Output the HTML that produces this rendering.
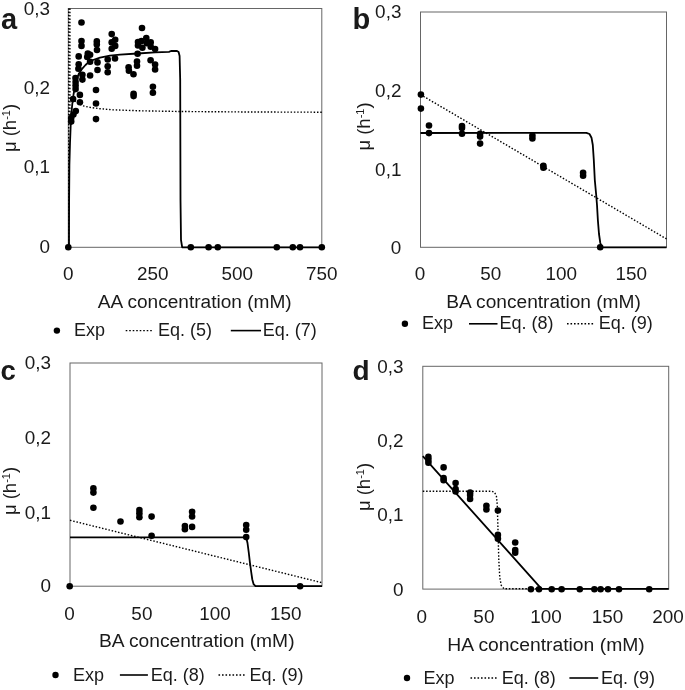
<!DOCTYPE html>
<html><head><meta charset="utf-8"><title>Growth rate vs acid concentration</title>
<style>
html,body{margin:0;padding:0;background:#fff;}
body{width:685px;height:690px;overflow:hidden;}
svg{display:block;font-family:"Liberation Sans", sans-serif;}
text{fill:#1a1a1a;}
svg{will-change:transform;}
circle{fill:#000;}
.fr{fill:none;stroke:#666666;stroke-width:1;}
.sol{fill:none;stroke:#000;stroke-width:1.8;stroke-linejoin:round;}
.dot{fill:none;stroke:#000;stroke-width:1.4;stroke-dasharray:1.5 1.8;}
.soll{stroke:#000;stroke-width:1.6;}
.dotl{stroke:#000;stroke-width:1.4;stroke-dasharray:1.6 1.9;}
</style></head>
<body>
<svg width="685" height="690" viewBox="0 0 685 690">
<rect class="fr" x="68.3" y="8.5" width="253.5" height="238.8"/>
<rect class="fr" x="420.5" y="12.0" width="246.0" height="235.3"/>
<rect class="fr" x="70.0" y="363.0" width="252.0" height="223.2"/>
<rect class="fr" x="422.8" y="366.3" width="245.9" height="222.8"/>
<polyline class="dot" points="68.7,247.3 68.7,8.5"/>
<polyline class="dot" points="69.9,8.5 69.9,117.0"/>
<polyline class="dot" points="71.5,99.5 74.0,100.5 78.0,103.3 82.8,105.8 90.0,107.4 100.0,108.7 112.6,109.8 140.0,110.8 180.0,111.5 250.0,112.0 321.8,112.2"/>
<polyline class="sol" points="69.0,247.3 69.1,200.0 69.4,165.0 70.0,143.0 70.7,125.0 71.4,113.0 72.3,104.0 73.6,94.0 75.5,85.0 77.3,77.6 79.0,73.4 82.5,68.3 85.5,65.0 88.4,62.4 93.0,60.0 100.0,57.6 110.0,55.6 120.0,54.7 137.6,53.5 155.0,52.4 169.0,51.8 171.0,51.0 177.0,51.0 178.6,52.0 179.6,56.0 180.2,80.0 180.5,200.0 181.0,240.0 182.2,247.3 321.8,247.3"/>
<circle cx="68.3" cy="247.3" r="3.3"/>
<circle cx="190.8" cy="247.3" r="3.3"/>
<circle cx="208.6" cy="247.3" r="3.3"/>
<circle cx="217.8" cy="247.3" r="3.3"/>
<circle cx="276.8" cy="247.3" r="3.3"/>
<circle cx="292.8" cy="247.3" r="3.3"/>
<circle cx="300.0" cy="247.3" r="3.3"/>
<circle cx="321.8" cy="247.3" r="3.3"/>
<circle cx="81.5" cy="22.5" r="3.3"/>
<circle cx="81.5" cy="41.1" r="3.3"/>
<circle cx="81.5" cy="45.9" r="3.3"/>
<circle cx="78.7" cy="56.4" r="3.3"/>
<circle cx="78.7" cy="64.3" r="3.3"/>
<circle cx="78.4" cy="68.7" r="3.3"/>
<circle cx="87.8" cy="53.5" r="3.3"/>
<circle cx="90.1" cy="54.7" r="3.3"/>
<circle cx="87.2" cy="57.0" r="3.3"/>
<circle cx="90.1" cy="61.7" r="3.3"/>
<circle cx="96.8" cy="41.4" r="3.3"/>
<circle cx="96.8" cy="44.6" r="3.3"/>
<circle cx="97.0" cy="50.0" r="3.3"/>
<circle cx="97.5" cy="62.4" r="3.3"/>
<circle cx="97.5" cy="70.0" r="3.3"/>
<circle cx="107.7" cy="59.5" r="3.3"/>
<circle cx="107.7" cy="66.3" r="3.3"/>
<circle cx="107.7" cy="72.2" r="3.3"/>
<circle cx="111.7" cy="34.1" r="3.3"/>
<circle cx="115.2" cy="39.8" r="3.3"/>
<circle cx="111.7" cy="42.4" r="3.3"/>
<circle cx="115.2" cy="45.9" r="3.3"/>
<circle cx="111.7" cy="48.8" r="3.3"/>
<circle cx="115.0" cy="58.5" r="3.3"/>
<circle cx="128.6" cy="67.3" r="3.3"/>
<circle cx="128.9" cy="70.7" r="3.3"/>
<circle cx="133.5" cy="74.2" r="3.3"/>
<circle cx="142.0" cy="28.0" r="3.3"/>
<circle cx="146.3" cy="38.0" r="3.3"/>
<circle cx="138.0" cy="42.0" r="3.3"/>
<circle cx="141.5" cy="41.1" r="3.3"/>
<circle cx="138.0" cy="45.5" r="3.3"/>
<circle cx="142.4" cy="47.7" r="3.3"/>
<circle cx="146.8" cy="43.3" r="3.3"/>
<circle cx="150.7" cy="42.4" r="3.3"/>
<circle cx="150.7" cy="46.8" r="3.3"/>
<circle cx="155.1" cy="49.0" r="3.3"/>
<circle cx="137.6" cy="53.8" r="3.3"/>
<circle cx="137.0" cy="61.5" r="3.3"/>
<circle cx="137.0" cy="65.8" r="3.3"/>
<circle cx="150.6" cy="60.3" r="3.3"/>
<circle cx="155.1" cy="64.6" r="3.3"/>
<circle cx="155.1" cy="69.5" r="3.3"/>
<circle cx="152.9" cy="86.8" r="3.3"/>
<circle cx="152.9" cy="92.7" r="3.3"/>
<circle cx="133.6" cy="93.7" r="3.3"/>
<circle cx="133.6" cy="96.1" r="3.3"/>
<circle cx="96.0" cy="90.0" r="3.3"/>
<circle cx="96.0" cy="103.5" r="3.3"/>
<circle cx="96.0" cy="119.1" r="3.3"/>
<circle cx="82.4" cy="74.8" r="3.3"/>
<circle cx="82.4" cy="79.6" r="3.3"/>
<circle cx="90.1" cy="75.5" r="3.3"/>
<circle cx="75.5" cy="78.1" r="3.3"/>
<circle cx="75.6" cy="82.1" r="3.3"/>
<circle cx="75.6" cy="85.6" r="3.3"/>
<circle cx="75.6" cy="89.1" r="3.3"/>
<circle cx="79.9" cy="94.9" r="3.3"/>
<circle cx="79.9" cy="102.3" r="3.3"/>
<circle cx="73.1" cy="99.1" r="3.3"/>
<circle cx="75.8" cy="111.1" r="3.3"/>
<circle cx="73.4" cy="114.6" r="3.3"/>
<circle cx="71.2" cy="118.1" r="3.3"/>
<circle cx="71.2" cy="121.6" r="3.3"/>
<polyline class="dot" points="420.5,94.6 666.5,238.9"/>
<polyline class="sol" points="420.5,133.0 586.4,132.8 589.5,134.0 591.5,137.7 592.8,145.0 593.8,160.0 594.8,180.0 596.2,195.0 597.0,205.0 597.9,220.5 599.0,234.0 600.3,243.0 602.0,247.3 666.5,247.3"/>
<circle cx="420.9" cy="94.6" r="3.3"/>
<circle cx="420.9" cy="108.6" r="3.3"/>
<circle cx="429.0" cy="125.5" r="3.3"/>
<circle cx="429.0" cy="133.1" r="3.3"/>
<circle cx="462.0" cy="126.1" r="3.3"/>
<circle cx="462.0" cy="128.0" r="3.3"/>
<circle cx="462.0" cy="133.7" r="3.3"/>
<circle cx="480.1" cy="133.7" r="3.3"/>
<circle cx="480.1" cy="136.6" r="3.3"/>
<circle cx="480.1" cy="143.6" r="3.3"/>
<circle cx="532.4" cy="135.5" r="3.3"/>
<circle cx="532.4" cy="138.5" r="3.3"/>
<circle cx="543.4" cy="165.7" r="3.3"/>
<circle cx="543.4" cy="167.7" r="3.3"/>
<circle cx="583.1" cy="172.8" r="3.3"/>
<circle cx="583.1" cy="175.7" r="3.3"/>
<circle cx="600.2" cy="247.3" r="3.3"/>
<polyline class="dot" points="70.0,520.3 322.0,582.7"/>
<polyline class="sol" points="70.0,537.4 245.1,537.4 246.6,539.0 247.5,543.0 248.7,552.0 249.9,562.3 251.2,572.0 252.3,579.5 253.6,584.2 255.5,586.2 322.0,586.2"/>
<circle cx="69.7" cy="586.2" r="3.3"/>
<circle cx="93.4" cy="488.4" r="3.3"/>
<circle cx="93.4" cy="492.6" r="3.3"/>
<circle cx="93.4" cy="507.7" r="3.3"/>
<circle cx="120.5" cy="521.5" r="3.3"/>
<circle cx="139.4" cy="510.1" r="3.3"/>
<circle cx="139.4" cy="513.4" r="3.3"/>
<circle cx="139.4" cy="517.3" r="3.3"/>
<circle cx="151.6" cy="516.6" r="3.3"/>
<circle cx="151.6" cy="535.7" r="3.3"/>
<circle cx="192.1" cy="511.7" r="3.3"/>
<circle cx="192.1" cy="516.5" r="3.3"/>
<circle cx="184.9" cy="526.1" r="3.3"/>
<circle cx="184.9" cy="529.3" r="3.3"/>
<circle cx="192.1" cy="526.9" r="3.3"/>
<circle cx="246.2" cy="525.0" r="3.3"/>
<circle cx="246.2" cy="529.8" r="3.3"/>
<circle cx="246.2" cy="537.1" r="3.3"/>
<circle cx="300.1" cy="586.2" r="3.3"/>
<polyline class="dot" points="422.8,491.2 491.6,491.2 494.5,492.3 496.4,496.0 497.3,505.0 498.0,530.0 498.8,560.0 499.8,578.0 501.3,585.5 504.0,588.8 541.5,588.8"/>
<polyline class="sol" points="422.8,456.2 541.5,588.8 668.7,588.8"/>
<circle cx="428.4" cy="456.9" r="3.3"/>
<circle cx="428.4" cy="459.9" r="3.3"/>
<circle cx="428.4" cy="462.8" r="3.3"/>
<circle cx="443.6" cy="467.4" r="3.3"/>
<circle cx="443.6" cy="478.0" r="3.3"/>
<circle cx="443.6" cy="480.3" r="3.3"/>
<circle cx="455.6" cy="483.0" r="3.3"/>
<circle cx="455.6" cy="489.0" r="3.3"/>
<circle cx="455.6" cy="491.4" r="3.3"/>
<circle cx="470.1" cy="492.6" r="3.3"/>
<circle cx="470.1" cy="494.9" r="3.3"/>
<circle cx="470.1" cy="499.0" r="3.3"/>
<circle cx="486.4" cy="505.8" r="3.3"/>
<circle cx="486.4" cy="509.5" r="3.3"/>
<circle cx="497.9" cy="510.5" r="3.3"/>
<circle cx="497.9" cy="534.9" r="3.3"/>
<circle cx="497.9" cy="538.7" r="3.3"/>
<circle cx="515.2" cy="542.5" r="3.3"/>
<circle cx="515.2" cy="550.0" r="3.3"/>
<circle cx="515.2" cy="552.8" r="3.3"/>
<circle cx="530.9" cy="589.3" r="3.3"/>
<circle cx="539.0" cy="589.3" r="3.3"/>
<circle cx="551.7" cy="589.3" r="3.3"/>
<circle cx="561.6" cy="589.3" r="3.3"/>
<circle cx="579.8" cy="589.3" r="3.3"/>
<circle cx="594.4" cy="589.3" r="3.3"/>
<circle cx="600.6" cy="589.3" r="3.3"/>
<circle cx="608.0" cy="589.3" r="3.3"/>
<circle cx="619.0" cy="589.3" r="3.3"/>
<circle cx="649.2" cy="589.3" r="3.3"/>
<text x="50.0" y="14.6" font-size="18" text-anchor="end" font-weight="normal" textLength="26.27" lengthAdjust="spacingAndGlyphs">0,3</text>
<text x="50.0" y="93.9" font-size="18" text-anchor="end" font-weight="normal" textLength="26.27" lengthAdjust="spacingAndGlyphs">0,2</text>
<text x="50.0" y="172.7" font-size="18" text-anchor="end" font-weight="normal" textLength="26.27" lengthAdjust="spacingAndGlyphs">0,1</text>
<text x="50.0" y="253.3" font-size="18" text-anchor="end" font-weight="normal" textLength="10.51" lengthAdjust="spacingAndGlyphs">0</text>
<text x="401.4" y="17.8" font-size="18" text-anchor="end" font-weight="normal" textLength="26.27" lengthAdjust="spacingAndGlyphs">0,3</text>
<text x="401.4" y="96.5" font-size="18" text-anchor="end" font-weight="normal" textLength="26.27" lengthAdjust="spacingAndGlyphs">0,2</text>
<text x="401.4" y="175.5" font-size="18" text-anchor="end" font-weight="normal" textLength="26.27" lengthAdjust="spacingAndGlyphs">0,1</text>
<text x="401.4" y="253.7" font-size="18" text-anchor="end" font-weight="normal" textLength="10.51" lengthAdjust="spacingAndGlyphs">0</text>
<text x="51.0" y="369.3" font-size="18" text-anchor="end" font-weight="normal" textLength="26.27" lengthAdjust="spacingAndGlyphs">0,3</text>
<text x="51.0" y="444.3" font-size="18" text-anchor="end" font-weight="normal" textLength="26.27" lengthAdjust="spacingAndGlyphs">0,2</text>
<text x="51.0" y="518.5" font-size="18" text-anchor="end" font-weight="normal" textLength="26.27" lengthAdjust="spacingAndGlyphs">0,1</text>
<text x="51.0" y="591.9" font-size="18" text-anchor="end" font-weight="normal" textLength="10.51" lengthAdjust="spacingAndGlyphs">0</text>
<text x="403.6" y="372.5" font-size="18" text-anchor="end" font-weight="normal" textLength="26.27" lengthAdjust="spacingAndGlyphs">0,3</text>
<text x="403.6" y="447.0" font-size="18" text-anchor="end" font-weight="normal" textLength="26.27" lengthAdjust="spacingAndGlyphs">0,2</text>
<text x="403.6" y="521.2" font-size="18" text-anchor="end" font-weight="normal" textLength="26.27" lengthAdjust="spacingAndGlyphs">0,1</text>
<text x="403.6" y="595.5" font-size="18" text-anchor="end" font-weight="normal" textLength="10.51" lengthAdjust="spacingAndGlyphs">0</text>
<text x="68.3" y="279.9" font-size="18" text-anchor="middle" font-weight="normal" textLength="10.51" lengthAdjust="spacingAndGlyphs">0</text>
<text x="152.7" y="279.9" font-size="18" text-anchor="middle" font-weight="normal" textLength="31.53" lengthAdjust="spacingAndGlyphs">250</text>
<text x="237.3" y="279.9" font-size="18" text-anchor="middle" font-weight="normal" textLength="31.53" lengthAdjust="spacingAndGlyphs">500</text>
<text x="321.8" y="279.9" font-size="18" text-anchor="middle" font-weight="normal" textLength="31.53" lengthAdjust="spacingAndGlyphs">750</text>
<text x="420.0" y="280.3" font-size="18" text-anchor="middle" font-weight="normal" textLength="10.51" lengthAdjust="spacingAndGlyphs">0</text>
<text x="490.8" y="280.3" font-size="18" text-anchor="middle" font-weight="normal" textLength="21.02" lengthAdjust="spacingAndGlyphs">50</text>
<text x="561.3" y="280.3" font-size="18" text-anchor="middle" font-weight="normal" textLength="31.53" lengthAdjust="spacingAndGlyphs">100</text>
<text x="631.3" y="280.3" font-size="18" text-anchor="middle" font-weight="normal" textLength="31.53" lengthAdjust="spacingAndGlyphs">150</text>
<text x="69.5" y="619.6" font-size="18" text-anchor="middle" font-weight="normal" textLength="10.51" lengthAdjust="spacingAndGlyphs">0</text>
<text x="141.9" y="619.6" font-size="18" text-anchor="middle" font-weight="normal" textLength="21.02" lengthAdjust="spacingAndGlyphs">50</text>
<text x="215.1" y="619.6" font-size="18" text-anchor="middle" font-weight="normal" textLength="31.53" lengthAdjust="spacingAndGlyphs">100</text>
<text x="285.8" y="619.6" font-size="18" text-anchor="middle" font-weight="normal" textLength="31.53" lengthAdjust="spacingAndGlyphs">150</text>
<text x="421.8" y="622.5" font-size="18" text-anchor="middle" font-weight="normal" textLength="10.51" lengthAdjust="spacingAndGlyphs">0</text>
<text x="483.9" y="622.5" font-size="18" text-anchor="middle" font-weight="normal" textLength="21.02" lengthAdjust="spacingAndGlyphs">50</text>
<text x="546.1" y="622.5" font-size="18" text-anchor="middle" font-weight="normal" textLength="31.53" lengthAdjust="spacingAndGlyphs">100</text>
<text x="607.5" y="622.5" font-size="18" text-anchor="middle" font-weight="normal" textLength="31.53" lengthAdjust="spacingAndGlyphs">150</text>
<text x="668.1" y="622.5" font-size="18" text-anchor="middle" font-weight="normal" textLength="31.53" lengthAdjust="spacingAndGlyphs">200</text>
<text x="194.7" y="308.2" font-size="18" text-anchor="middle" font-weight="normal" textLength="194" lengthAdjust="spacingAndGlyphs">AA concentration (mM)</text>
<text x="543.6" y="308.4" font-size="18" text-anchor="middle" font-weight="normal" textLength="194.5" lengthAdjust="spacingAndGlyphs">BA concentration (mM)</text>
<text x="196.8" y="647.4" font-size="18" text-anchor="middle" font-weight="normal" textLength="195.5" lengthAdjust="spacingAndGlyphs">BA concentration (mM)</text>
<text x="546.0" y="650.7" font-size="18" text-anchor="middle" font-weight="normal" textLength="197.5" lengthAdjust="spacingAndGlyphs">HA concentration (mM)</text>
<text x="1.0" y="28.6" font-size="29" text-anchor="start" font-weight="bold">a</text>
<text x="352.6" y="28.6" font-size="29" text-anchor="start" font-weight="bold">b</text>
<text x="0.5" y="379.6" font-size="27.5" text-anchor="start" font-weight="bold">c</text>
<text x="352.4" y="379.6" font-size="28" text-anchor="start" font-weight="bold">d</text>
<text transform="translate(15.8,128.0) rotate(-90)" font-size="18.5" text-anchor="middle">&#956; (h<tspan font-size="11" dy="-5.5">-1</tspan><tspan dy="5.5">)</tspan></text>
<text transform="translate(369.8,126.5) rotate(-90)" font-size="18.5" text-anchor="middle">&#956; (h<tspan font-size="11" dy="-5.5">-1</tspan><tspan dy="5.5">)</tspan></text>
<text transform="translate(15.8,491.0) rotate(-90)" font-size="18.5" text-anchor="middle">&#956; (h<tspan font-size="11" dy="-5.5">-1</tspan><tspan dy="5.5">)</tspan></text>
<text transform="translate(369.8,487.0) rotate(-90)" font-size="18.5" text-anchor="middle">&#956; (h<tspan font-size="11" dy="-5.5">-1</tspan><tspan dy="5.5">)</tspan></text>
<circle cx="56.9" cy="330.6" r="3.2"/>
<text x="73.9" y="336.2" font-size="18" text-anchor="start" font-weight="normal">Exp</text>
<line class="dotl" x1="125.7" y1="330.6" x2="153.3" y2="330.6"/>
<text x="158.0" y="336.2" font-size="18" text-anchor="start" font-weight="normal">Eq. (5)</text>
<line class="soll" x1="230.8" y1="330.6" x2="261.0" y2="330.6"/>
<text x="262.7" y="336.2" font-size="18" text-anchor="start" font-weight="normal">Eq. (7)</text>
<circle cx="404.9" cy="323.8" r="3.2"/>
<text x="421.9" y="329.4" font-size="18" text-anchor="start" font-weight="normal">Exp</text>
<line class="soll" x1="469.0" y1="323.8" x2="497.5" y2="323.8"/>
<text x="499.59999999999997" y="329.4" font-size="18" text-anchor="start" font-weight="normal">Eq. (8)</text>
<line class="dotl" x1="567.0" y1="323.8" x2="594.5" y2="323.8"/>
<text x="598.8000000000001" y="329.4" font-size="18" text-anchor="start" font-weight="normal">Eq. (9)</text>
<circle cx="55.5" cy="675.0" r="3.2"/>
<text x="73.0" y="680.6" font-size="18" text-anchor="start" font-weight="normal">Exp</text>
<line class="soll" x1="119.9" y1="675.0" x2="147.9" y2="675.0"/>
<text x="150.7" y="680.6" font-size="18" text-anchor="start" font-weight="normal">Eq. (8)</text>
<line class="dotl" x1="218.5" y1="675.0" x2="245.6" y2="675.0"/>
<text x="249.39999999999998" y="680.6" font-size="18" text-anchor="start" font-weight="normal">Eq. (9)</text>
<circle cx="407.0" cy="678.0" r="3.2"/>
<text x="423.59999999999997" y="683.6" font-size="18" text-anchor="start" font-weight="normal">Exp</text>
<line class="dotl" x1="470.5" y1="678.0" x2="497.9" y2="678.0"/>
<text x="501.8" y="683.6" font-size="18" text-anchor="start" font-weight="normal">Eq. (8)</text>
<line class="soll" x1="569.4" y1="678.0" x2="598.2" y2="678.0"/>
<text x="600.9000000000001" y="683.6" font-size="18" text-anchor="start" font-weight="normal">Eq. (9)</text>
</svg>
</body></html>
